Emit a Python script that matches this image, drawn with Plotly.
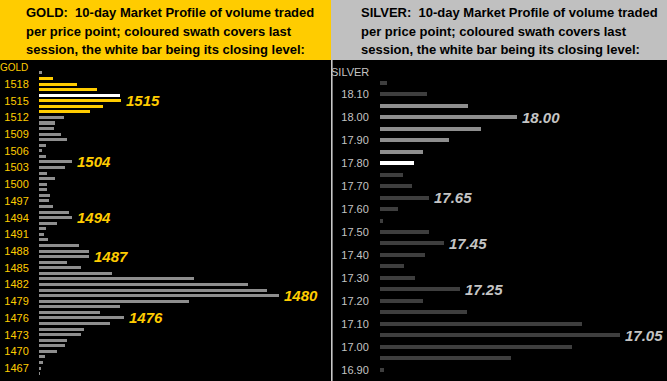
import plotly.graph_objects as go

# ---------------- data ----------------
gold_prices = list(range(1520, 1465, -1))
gold_volume = [3, 14, 38, 58, 81, 82, 64, 51, 25, 16, 15, 22, 28, 7, 3, 7, 33, 26,
               8, 16, 8, 8, 11, 10, 14, 30, 33, 18, 7, 5, 9, 40, 50, 50, 28, 42,
               73, 155, 209, 228, 240, 150, 81, 61, 85, 71, 45, 42, 28, 26, 18, 6,
               4, 2, 1]
gold_session = (1513, 1519)
gold_close = 1516
gold_labels = [1515, 1504, 1494, 1487, 1480, 1476]
gold_ticks = list(range(1518, 1466, -3))

silver_prices = [18.15, 18.10, 18.05, 18.00, 17.95, 17.90, 17.85, 17.80, 17.75,
                 17.70, 17.65, 17.60, 17.55, 17.50, 17.45, 17.40, 17.35, 17.30,
                 17.25, 17.20, 17.15, 17.10, 17.05, 17.00, 16.95, 16.90]
silver_volume = [7, 47, 88, 137, 101, 69, 43, 34, 23, 32, 49, 18, 3, 49, 64, 45,
                 24, 35, 80, 43, 87, 202, 240, 192, 131, 4]
silver_session = (17.80, 18.05)
silver_close = 17.80
silver_labels = [18.00, 17.65, 17.45, 17.25, 17.05]
silver_ticks = [18.10, 18.00, 17.90, 17.80, 17.70, 17.60, 17.50, 17.40, 17.30,
                17.20, 17.10, 17.00, 16.90]

gold_header = ["GOLD:  10-day Market Profile of volume traded",
               "per price point; coloured swath covers last",
               "session, the white bar being its closing level:"]
silver_header = ["SILVER:  10-day Market Profile of volume traded",
                 "per price point; coloured swath covers last",
                 "session, the white bar being its closing level:"]

# ---------------- style ----------------
W, H = 667, 381
FONT = "Liberation Sans, Arial, sans-serif"
YELLOW = "#FFCC00"
GREY_BAR = "#8e8e8e"
DARK_BAR = "#3e3e3e"
LIGHT = "#c4c4c4"


def gold_color(p):
    if p == gold_close:
        return "#ffffff"
    if gold_session[0] <= p <= gold_session[1]:
        return YELLOW
    return GREY_BAR


def silver_color(p):
    if abs(p - silver_close) < 1e-9:
        return "#ffffff"
    if silver_session[0] - 1e-9 <= p <= silver_session[1] + 1e-9:
        return GREY_BAR
    return DARK_BAR


fig = go.Figure()
fig.add_trace(go.Bar(
    x=gold_volume, y=gold_prices, orientation="h", width=0.54,
    marker=dict(color=[gold_color(p) for p in gold_prices], line_width=0),
    xaxis="x", yaxis="y", hoverinfo="skip"))
fig.add_trace(go.Bar(
    x=silver_volume, y=silver_prices, orientation="h", width=0.0174,
    marker=dict(color=[silver_color(p) for p in silver_prices], line_width=0),
    xaxis="x2", yaxis="y2", hoverinfo="skip"))

top = (H - 60) / H
fig.update_layout(
    width=W, height=H, autosize=False,
    margin=dict(l=0, r=0, t=0, b=0),
    paper_bgcolor="#000000", plot_bgcolor="#000000",
    showlegend=False, bargap=0,
    font=dict(family=FONT),
    xaxis=dict(domain=[39 / W, 331 / W], range=[0, 292], visible=False,
               fixedrange=True),
    yaxis=dict(domain=[0, top], range=[1464.68, 1522.31], tickvals=gold_ticks,
               ticktext=[str(t) for t in gold_ticks], showgrid=False,
               zeroline=False, showline=False, ticks="outside", ticklen=7,
               tickcolor="rgba(0,0,0,0)",
               tickfont=dict(color=YELLOW, size=11, family=FONT)),
    xaxis2=dict(domain=[380 / W, 1], range=[0, 287], visible=False,
                anchor="y2", fixedrange=True),
    yaxis2=dict(domain=[0, top], range=[16.852, 18.248], anchor="x2",
                tickvals=silver_ticks,
                ticktext=[f"{t:.2f}" for t in silver_ticks], showgrid=False,
                zeroline=False, showline=False, ticks="outside", ticklen=8,
                tickcolor="rgba(0,0,0,0)",
                tickfont=dict(color=LIGHT, size=11, family=FONT)),
)

shapes = [
    dict(type="rect", xref="paper", yref="paper", x0=0, x1=331 / W,
         y0=top, y1=1, fillcolor=YELLOW, line_width=0, layer="below"),
    dict(type="rect", xref="paper", yref="paper", x0=331 / W, x1=1,
         y0=top, y1=1, fillcolor="#c0c0c0", line_width=0, layer="below"),
    dict(type="line", xref="paper", yref="paper", x0=331.8 / W, x1=331.8 / W,
         y0=0, y1=top, line=dict(color="#c8c8c8", width=1.6)),
]
fig.update_layout(shapes=shapes)

ann = []
line_y = [12.7, 31.2, 49.6]
for txt, py in zip(gold_header, line_y):
    ann.append(dict(text=txt, xref="paper", yref="paper", x=24 / W,
                    y=1 - py / H, xanchor="left", yanchor="middle",
                    showarrow=False,
                    font=dict(family=FONT, size=13, color="#000000",
                              weight="bold")))
for txt, py in zip(silver_header, line_y):
    ann.append(dict(text=txt, xref="paper", yref="paper", x=359 / W,
                    y=1 - py / H, xanchor="left", yanchor="middle",
                    showarrow=False,
                    font=dict(family=FONT, size=13, color="#000000",
                              weight="bold")))

ann.append(dict(text="GOLD", xref="paper", yref="paper", x=30 / W,
                y=1 - 67 / H, xanchor="right", yanchor="middle",
                showarrow=False, font=dict(family=FONT, size=10, color=YELLOW)))
ann.append(dict(text="SILVER", xref="paper", yref="paper", x=371 / W,
                y=1 - 72 / H, xanchor="right", yanchor="middle",
                showarrow=False, font=dict(family=FONT, size=11, color=LIGHT)))

for p in gold_labels:
    v = gold_volume[gold_prices.index(p)]
    ann.append(dict(text=str(p), x=v, y=p, xref="x", yref="y",
                    xanchor="left", yanchor="middle", xshift=3,
                    showarrow=False,
                    font=dict(family=FONT, size=15, color=YELLOW,
                              weight="bold", style="italic")))
for p in silver_labels:
    i = min(range(len(silver_prices)), key=lambda k: abs(silver_prices[k] - p))
    v = silver_volume[i]
    ann.append(dict(text=f"{p:.2f}", x=v, y=p, xref="x2", yref="y2",
                    xanchor="left", yanchor="middle", xshift=3,
                    showarrow=False,
                    font=dict(family=FONT, size=15, color=LIGHT,
                              weight="bold", style="italic")))

fig.update_layout(annotations=ann)
fig.write_html(
    "out.html", config={"displayModeBar": False},
    post_script="document.body.style.margin='0';"
                "document.body.style.overflow='hidden';")
